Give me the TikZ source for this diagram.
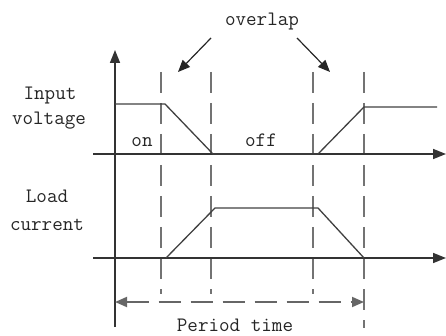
\documentclass[tikz,border=0pt]{standalone}
\usetikzlibrary{arrows.meta}
\begin{document}
\begin{tikzpicture}[x=1pt,y=-1pt,
  lbl/.style={font=\ttfamily\fontsize{20.5}{24}\selectfont, inner sep=0pt, anchor=base, text=black!85},
  axis/.style={line width=1.6pt, draw=black!80, -{Triangle[length=13pt,width=10pt]}},
  wave/.style={line width=1.3pt, draw=black!75},
  guide/.style={line width=1.8pt, draw=black!55, dash pattern=on 21pt off 10pt},
  pointer/.style={line width=1.2pt, draw=black!85, -{Triangle[length=12pt,width=10pt]}},
  period/.style={line width=1.8pt, draw=black!60, dash pattern=on 22pt off 10pt, {Triangle[length=12pt,width=10pt]}-{Triangle[length=12pt,width=10pt]}}]
\useasboundingbox (0,0) rectangle (446,336);
% axes
\coordinate (ybot) at (115,327);
\coordinate (ytop) at (115,50);
\coordinate (x1l) at (93,154);
\coordinate (x1r) at (446,154);
\coordinate (x2l) at (93,258);
\coordinate (x2r) at (446,258);
% dashed guide ends
\coordinate (g1t) at (161,72); \coordinate (g1b) at (161,294);
\coordinate (g2t) at (211,72); \coordinate (g2b) at (211,294);
\coordinate (g3t) at (313,72); \coordinate (g3b) at (313,294);
\coordinate (g4t) at (364,72); \coordinate (g4b) at (364,328);
\draw[guide] (g1t) -- (g1b);
\draw[guide] (g2t) -- (g2b);
\draw[guide] (g3t) -- (g3b);
\draw[guide] (g4t) -- (g4b);
\draw[axis] (ybot) -- (ytop);
\draw[axis] (x1l) -- (x1r);
\draw[axis] (x2l) -- (x2r);
% input voltage
\coordinate (v0) at (115,104);
\coordinate (v1) at (165,104);
\coordinate (v2) at (213,154);
\coordinate (v3) at (318,154);
\coordinate (v4) at (364,107);
\coordinate (v5) at (437,107);
\draw[wave] (v0) -- (v1) -- (v2) -- (v3) -- (v4) -- (v5);
% load current
\coordinate (c0) at (166,258);
\coordinate (c1) at (215,208);
\coordinate (c2) at (318,208);
\coordinate (c3) at (364,258);
\draw[wave] (c0) -- (c1) -- (c2) -- (c3);
% period
\coordinate (p0) at (115,302);
\coordinate (p1) at (364,302);
\draw[period] (p0) -- (p1);
% labels
\node[lbl] (ovl) at (262,26) {overlap};
\node[lbl] (inp) at (50,100) {Input};
\node[lbl] (vol) at (49,125) {voltage};
\node[lbl] (on) at (142,147) {on};
\node[lbl] (off) at (261,147) {off};
\node[lbl] (lod) at (47,203) {Load};
\node[lbl] (cur) at (47,230) {current};
\node[lbl] (per) at (235,331) {Period time};
% overlap pointers
\coordinate (a1s) at (211,38); \coordinate (a1e) at (178,72);
\coordinate (a2s) at (297,38); \coordinate (a2e) at (330,72);
\draw[pointer] (a1s) -- (a1e);
\draw[pointer] (a2s) -- (a2e);
\end{tikzpicture}
\end{document}
